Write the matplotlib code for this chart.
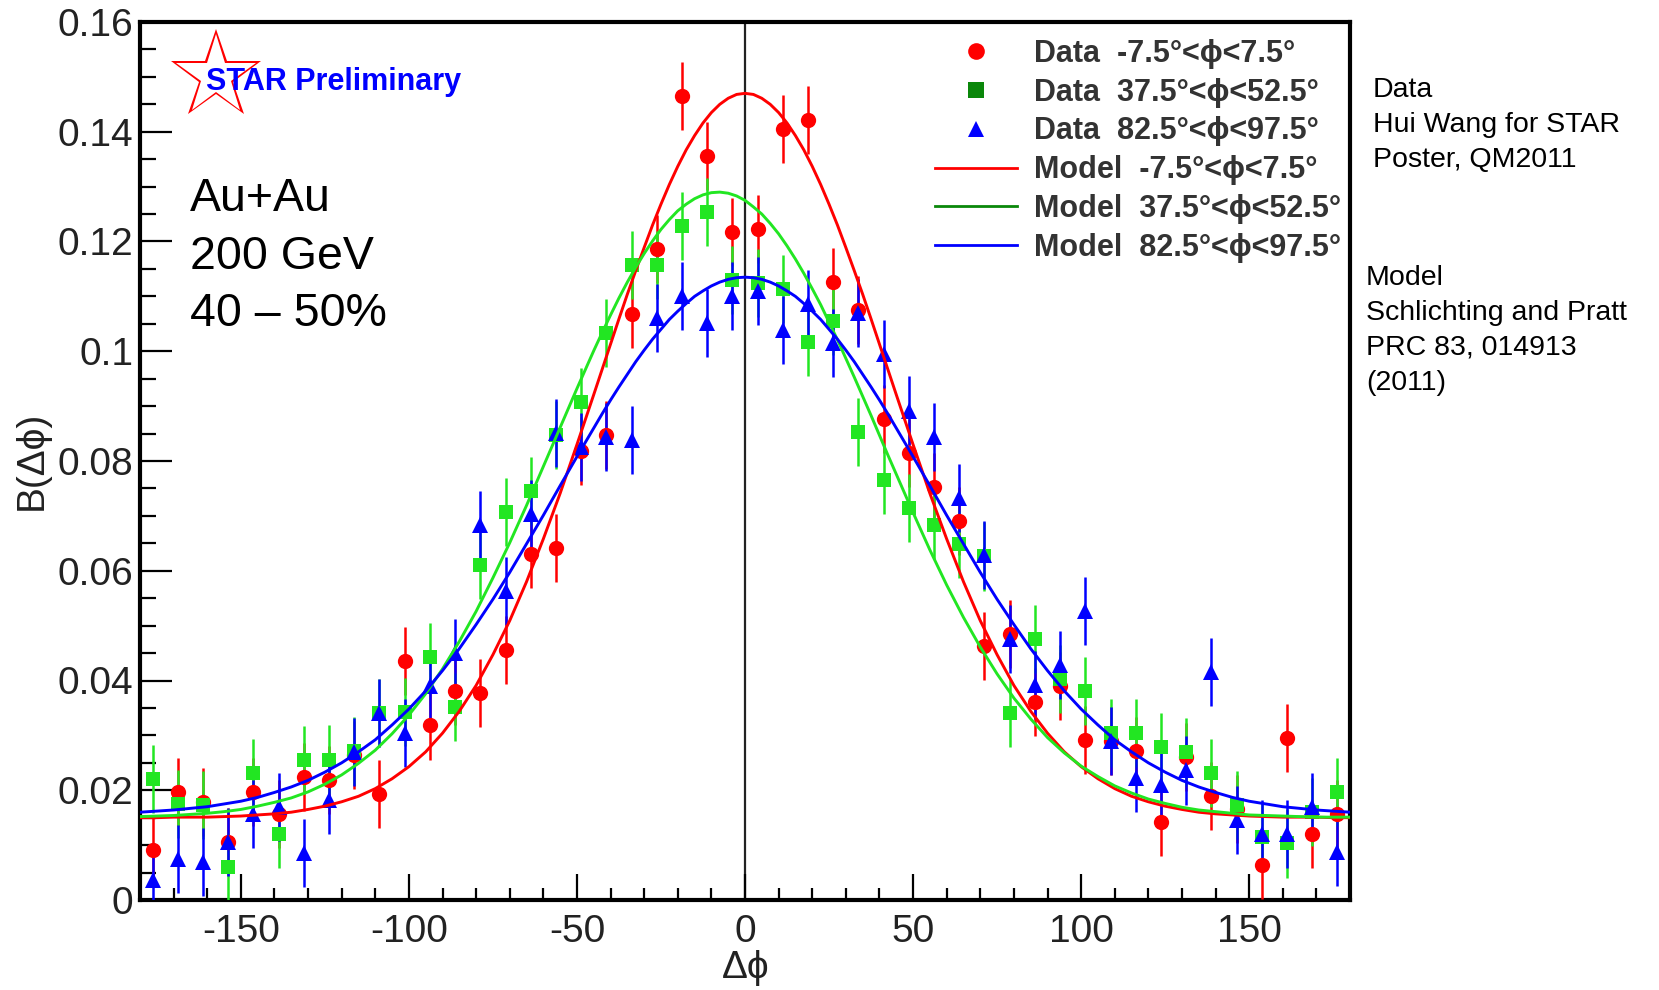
import numpy as np
import matplotlib
matplotlib.use("Agg")
from matplotlib import pyplot as plt
from matplotlib.lines import Line2D
from matplotlib.ticker import FuncFormatter, MultipleLocator

# data bin centres (deg)
dphi = np.arange(-176.25, 180.0, 7.5)

b_red = [0.0091, 0.0196, 0.0179, 0.0105, 0.0196, 0.0156, 0.0224, 0.0219, 0.0265, 0.0194,
         0.0436, 0.0318, 0.0380, 0.0378, 0.0456, 0.0631, 0.0642, 0.0818, 0.0847, 0.1068,
         0.1186, 0.1465, 0.1356, 0.1218, 0.1223, 0.1405, 0.1422, 0.1126, 0.1076, 0.0877,
         0.0814, 0.0752, 0.0690, 0.0463, 0.0485, 0.0360, 0.0390, 0.0292, 0.0290, 0.0272,
         0.0143, 0.0261, 0.0190, 0.0165, 0.0063, 0.0295, 0.0121, 0.0156]
b_green = [0.0221, 0.0175, 0.0173, 0.0061, 0.0232, 0.0120, 0.0255, 0.0256, 0.0272, 0.0340,
           0.0342, 0.0443, 0.0351, 0.0611, 0.0707, 0.0746, 0.0847, 0.0908, 0.1033, 0.1157,
           0.1157, 0.1229, 0.1254, 0.1130, 0.1125, 0.1113, 0.1016, 0.1055, 0.0852, 0.0765,
           0.0714, 0.0683, 0.0649, 0.0626, 0.0341, 0.0476, 0.0402, 0.0380, 0.0305, 0.0304,
           0.0279, 0.0269, 0.0231, 0.0173, 0.0114, 0.0103, 0.0161, 0.0197]
b_blue = [0.0036, 0.0074, 0.0070, 0.0106, 0.0156, 0.0170, 0.0085, 0.0182, 0.0270, 0.0340,
          0.0305, 0.0390, 0.0450, 0.0683, 0.0563, 0.0703, 0.0851, 0.0826, 0.0844, 0.0838,
          0.1060, 0.1100, 0.1052, 0.1100, 0.1110, 0.1039, 0.1086, 0.1015, 0.1070, 0.0995,
          0.0892, 0.0844, 0.0732, 0.0629, 0.0476, 0.0392, 0.0428, 0.0527, 0.0289, 0.0222,
          0.0210, 0.0236, 0.0416, 0.0146, 0.0121, 0.0121, 0.0169, 0.0088]
b_err = 0.0062

# model curves
model_dphi = np.concatenate([np.arange(-180, -44, 5), np.arange(-42.5, 43, 2.5), np.arange(45, 181, 5)])
model_red = [0.0150, 0.0150, 0.0151, 0.0151, 0.0151, 0.0152, 0.0153, 0.0155, 0.0157, 0.0160,
             0.0165, 0.0171, 0.0179, 0.0189, 0.0203, 0.0221, 0.0243, 0.0270, 0.0304, 0.0344,
             0.0391, 0.0447, 0.0509, 0.0580, 0.0658, 0.0741, 0.0830, 0.0921,
             0.0967, 0.1013, 0.1059, 0.1104, 0.1147, 0.1189, 0.1230, 0.1268, 0.1304, 0.1337,
             0.1367, 0.1393, 0.1416, 0.1435, 0.1450, 0.1461, 0.1468, 0.1470, 0.1468, 0.1461,
             0.1450, 0.1435, 0.1416, 0.1393, 0.1367, 0.1337, 0.1304, 0.1268, 0.1230, 0.1189,
             0.1147, 0.1104, 0.1059, 0.1013, 0.0967,
             0.0921, 0.0830, 0.0741, 0.0658, 0.0580, 0.0509, 0.0447, 0.0391, 0.0344, 0.0304,
             0.0270, 0.0243, 0.0221, 0.0203, 0.0189, 0.0179, 0.0171, 0.0165, 0.0160, 0.0157,
             0.0155, 0.0153, 0.0152, 0.0151, 0.0151, 0.0151, 0.0150, 0.0150]
model_green = [0.0152, 0.0153, 0.0154, 0.0156, 0.0158, 0.0161, 0.0165, 0.0171, 0.0178, 0.0186,
               0.0197, 0.0211, 0.0228, 0.0249, 0.0273, 0.0303, 0.0337, 0.0376, 0.0421, 0.0471,
               0.0526, 0.0587, 0.0651, 0.0719, 0.0790, 0.0861, 0.0932, 0.1001,
               0.1034, 0.1066, 0.1097, 0.1126, 0.1153, 0.1178, 0.1201, 0.1222, 0.1240, 0.1256,
               0.1268, 0.1278, 0.1285, 0.1289, 0.1290, 0.1288, 0.1283, 0.1275, 0.1263, 0.1250,
               0.1233, 0.1214, 0.1192, 0.1168, 0.1142, 0.1114, 0.1085, 0.1053, 0.1021, 0.0987,
               0.0953, 0.0918, 0.0883, 0.0847, 0.0811,
               0.0776, 0.0706, 0.0638, 0.0574, 0.0515, 0.0461, 0.0412, 0.0368, 0.0330, 0.0296,
               0.0268, 0.0244, 0.0225, 0.0208, 0.0195, 0.0184, 0.0176, 0.0169, 0.0164, 0.0161,
               0.0158, 0.0155, 0.0154, 0.0153, 0.0152, 0.0151, 0.0151, 0.0151]
model_blue = [0.0160, 0.0162, 0.0164, 0.0167, 0.0170, 0.0175, 0.0180, 0.0187, 0.0196, 0.0206,
              0.0218, 0.0233, 0.0250, 0.0270, 0.0292, 0.0319, 0.0348, 0.0381, 0.0418, 0.0458,
              0.0502, 0.0548, 0.0597, 0.0649, 0.0701, 0.0755, 0.0808, 0.0860,
              0.0886, 0.0911, 0.0935, 0.0958, 0.0981, 0.1002, 0.1022, 0.1040, 0.1058, 0.1073,
              0.1087, 0.1100, 0.1110, 0.1119, 0.1126, 0.1131, 0.1134, 0.1135, 0.1134, 0.1131,
              0.1126, 0.1119, 0.1110, 0.1100, 0.1087, 0.1073, 0.1058, 0.1040, 0.1022, 0.1002,
              0.0981, 0.0958, 0.0935, 0.0911, 0.0886,
              0.0860, 0.0808, 0.0755, 0.0701, 0.0649, 0.0597, 0.0548, 0.0502, 0.0458, 0.0418,
              0.0381, 0.0348, 0.0319, 0.0292, 0.0270, 0.0250, 0.0233, 0.0218, 0.0206, 0.0196,
              0.0187, 0.0180, 0.0175, 0.0170, 0.0167, 0.0164, 0.0162, 0.0160]

legend_labels = ["Data  -7.5\u00b0<\u03d5<7.5\u00b0",
                 "Data  37.5\u00b0<\u03d5<52.5\u00b0",
                 "Data  82.5\u00b0<\u03d5<97.5\u00b0",
                 "Model  -7.5\u00b0<\u03d5<7.5\u00b0",
                 "Model  37.5\u00b0<\u03d5<52.5\u00b0",
                 "Model  82.5\u00b0<\u03d5<97.5\u00b0"]
system_lines = ["Au+Au", "200 GeV", "40 \u2013 50%"]
data_note = ["Data", "Hui Wang for STAR", "Poster, QM2011"]
model_note = ["Model", "Schlichting and Pratt", "PRC 83, 014913", "(2011)"]

RED = "#ff0000"
GREEN = "#22e622"
DKGREEN = "#0a870a"
BLUE = "#0000ff"


def main() -> None:
    plt.rcParams["font.family"] = ["Liberation Sans", "DejaVu Sans"]
    plt.rcParams["axes.unicode_minus"] = False

    fig = plt.figure(figsize=(16.59, 9.90), dpi=100)
    ax = fig.add_axes([140 / 1659, 1 - 900 / 990, 1210 / 1659, 878 / 990])

    ax.axvline(0, color="#222222", lw=1.6, zorder=1)

    for vals, col, mk, ms in [(b_red, RED, "o", 11), (b_green, GREEN, "s", 10), (b_blue, BLUE, "^", 11)]:
        ax.errorbar(dphi, vals, yerr=b_err, fmt=mk, color=col, ms=ms, mew=0,
                    elinewidth=1.8, capsize=3, capthick=1.8, zorder=3)

    for vals, col in [(model_red, RED), (model_green, GREEN), (model_blue, BLUE)]:
        ax.plot(model_dphi, vals, color=col, lw=2.1, zorder=4)

    ax.set_xlim(-180, 180)
    ax.set_ylim(0, 0.16)
    ax.xaxis.set_major_locator(MultipleLocator(50))
    ax.xaxis.set_minor_locator(MultipleLocator(10))
    ax.yaxis.set_major_locator(MultipleLocator(0.02))
    ax.yaxis.set_minor_locator(MultipleLocator(0.005))
    fmt = FuncFormatter(lambda v, p: "%g" % round(v, 4))
    ax.xaxis.set_major_formatter(fmt)
    ax.yaxis.set_major_formatter(fmt)
    ax.tick_params(which="both", direction="in", width=1.6, colors="black",
                   labelcolor="#222222", labelsize=28)
    ax.tick_params(axis="x", which="major", length=19, pad=10)
    ax.tick_params(axis="x", which="minor", length=9)
    ax.tick_params(axis="y", which="major", length=23, pad=5)
    ax.tick_params(axis="y", which="minor", length=11.5)
    for sp in ax.spines.values():
        sp.set_linewidth(3)

    fig.text(0.0193, 0.535, "B(\u0394\u03d5)", rotation=90, ha="center", va="center",
             fontsize=28, color="#222222")
    fig.text(0.4497, 0.022, "\u0394\u03d5", ha="center", va="center", fontsize=28, color="#222222")

    # STAR logo
    ax.plot([0.0628], [0.939], transform=ax.transAxes, marker="*", ms=68,
            mfc=RED, mec=RED, mew=0, clip_on=False, zorder=5)
    ax.plot([0.0628], [0.939], transform=ax.transAxes, marker="*", ms=60,
            mfc="white", mec="white", mew=0, clip_on=False, zorder=5)
    ax.text(0.0545, 0.9225, "STAR Preliminary", transform=ax.transAxes, fontsize=22,
            fontweight="bold", color=BLUE, va="baseline", zorder=6)

    for i, line in enumerate(system_lines):
        ax.text(0.0413, 0.7847 - 0.0655 * i, line, transform=ax.transAxes,
                fontsize=33.5, va="baseline")

    handles = [
        Line2D([], [], ls="none", marker="o", color=RED, ms=12, mew=0),
        Line2D([], [], ls="none", marker="s", color=DKGREEN, ms=11, mew=0),
        Line2D([], [], ls="none", marker="^", color=BLUE, ms=12, mew=0),
        Line2D([], [], color=RED, lw=2),
        Line2D([], [], color=DKGREEN, lw=2),
        Line2D([], [], color=BLUE, lw=2),
    ]
    leg = ax.legend(handles, legend_labels, loc="upper left", bbox_to_anchor=(0.657, 0.981),
                    frameon=False, borderpad=0, borderaxespad=0, handlelength=2.7,
                    handletextpad=0.55, labelspacing=0.29,
                    prop={"size": 22, "weight": "bold"})
    for t in leg.get_texts():
        t.set_color("#333333")

    for i, line in enumerate(data_note):
        fig.text(1373 / 1659, 1 - (97 + 35 * i) / 990, line, fontsize=20.5, va="baseline")
    for i, line in enumerate(model_note):
        fig.text(1366 / 1659, 1 - (285 + 35 * i) / 990, line, fontsize=20.5, va="baseline")

    fig.savefig("out.png", dpi=100)


if __name__ == "__main__":
    main()
